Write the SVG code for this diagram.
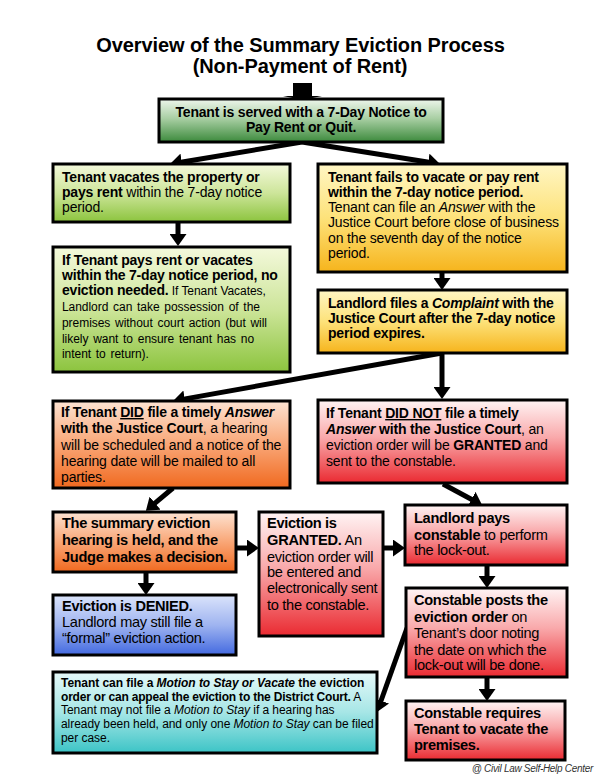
<svg xmlns="http://www.w3.org/2000/svg" width="600" height="778" viewBox="0 0 600 778">
<style>
text{font-family:"Liberation Sans",Arial,sans-serif;font-size:14px;letter-spacing:-0.15px;fill:#000}
.title{font-size:20px;font-weight:bold;letter-spacing:-0.1px}
.b{font-weight:bold;letter-spacing:-0.2px}
.i{font-style:italic}
.u{text-decoration:underline}
.s{font-size:12px;letter-spacing:-0.05px}
.m{font-size:14.6px;letter-spacing:-0.3px}
.box{stroke:#000;stroke-width:3}
.con{stroke:#000;stroke-width:5;fill:none;marker-end:url(#ah)}
.copy{font-size:10px;font-style:italic;letter-spacing:-0.3px;fill:#333}
</style>
<defs>
<marker id="ah" markerUnits="userSpaceOnUse" markerWidth="12" markerHeight="17" viewBox="0 0 12 17" refX="4" refY="8.5" orient="auto">
<path d="M0,0 L12,8.5 L0,17 Z" fill="#000"/>
</marker>
<linearGradient id="gDark" x1="0" y1="0" x2="0" y2="1"><stop offset="0" stop-color="#eef6ec"/><stop offset="0.45" stop-color="#a9cfa4"/><stop offset="1" stop-color="#3c8a3c"/></linearGradient>
<linearGradient id="gLime" x1="0" y1="0" x2="0" y2="1"><stop offset="0" stop-color="#f4f9dc"/><stop offset="0.5" stop-color="#cde59a"/><stop offset="1" stop-color="#8cc43e"/></linearGradient>
<linearGradient id="gYel" x1="0" y1="0" x2="0" y2="1"><stop offset="0" stop-color="#fff6c4"/><stop offset="0.5" stop-color="#fde27a"/><stop offset="1" stop-color="#f6b41c"/></linearGradient>
<linearGradient id="gOra" x1="0" y1="0" x2="0" y2="1"><stop offset="0" stop-color="#fde3d2"/><stop offset="0.5" stop-color="#f9a676"/><stop offset="1" stop-color="#f0691f"/></linearGradient>
<linearGradient id="gRed" x1="0" y1="0" x2="0" y2="1"><stop offset="0" stop-color="#fff4f4"/><stop offset="0.45" stop-color="#f9a9ab"/><stop offset="1" stop-color="#ea2a31"/></linearGradient>
<linearGradient id="gBlue" x1="0" y1="0" x2="0" y2="1"><stop offset="0" stop-color="#dbe4fb"/><stop offset="0.5" stop-color="#9fb4f0"/><stop offset="1" stop-color="#4369e0"/></linearGradient>
<linearGradient id="gTeal" x1="0" y1="0" x2="0" y2="1"><stop offset="0" stop-color="#e6f9f9"/><stop offset="0.5" stop-color="#a6e6e6"/><stop offset="1" stop-color="#3cc4c6"/></linearGradient>
</defs>

<rect width="600" height="778" fill="#fff"/>

<g id="title">
<text class="title" x="300.5" y="52" text-anchor="middle">Overview of the Summary Eviction Process</text>
<text class="title" x="300" y="73" text-anchor="middle">(Non-Payment of Rent)</text>
</g>

<g id="connectors">
<path d="M293,83 H312 V96 H322 L302.5,100 L283,96 H293 Z" fill="#000"/>
<line class="con" x1="302" y1="142" x2="177.9" y2="162.7"/>
<line class="con" x1="302" y1="142" x2="432.1" y2="162.7"/>
<line class="con" x1="178" y1="223" x2="178" y2="238"/>
<line class="con" x1="442" y1="272" x2="442" y2="282"/>
<line class="con" x1="442" y1="353" x2="180.9" y2="399.6"/>
<line class="con" x1="442" y1="353" x2="442" y2="391"/>
<line class="con" x1="173" y1="488" x2="152" y2="505.7"/>
<line class="con" x1="236" y1="548" x2="251" y2="548"/>
<line class="con" x1="383" y1="548" x2="397" y2="548"/>
<line class="con" x1="443" y1="484" x2="475" y2="501.2"/>
<line class="con" x1="146" y1="572" x2="146" y2="587"/>
<line class="con" x1="487" y1="565" x2="487" y2="580"/>
<line class="con" x1="487" y1="677" x2="487" y2="693"/>
<line class="con" x1="407" y1="628" x2="379.7" y2="704.5"/>
</g>

<g id="n_notice">
<rect class="box" x="159" y="99" width="284" height="43" fill="url(#gDark)"/>
<text class="b" x="301" y="117" text-anchor="middle">Tenant is served with a 7-Day Notice to</text>
<text class="b" x="301" y="132" text-anchor="middle">Pay Rent or Quit.</text>
</g>

<g id="n_vacates">
<rect class="box" x="53" y="164" width="237" height="58" fill="url(#gLime)"/>
<text class="b" x="62" y="182">Tenant vacates the property or</text>
<text x="62" y="197"><tspan class="b">pays rent</tspan> within the 7-day notice</text>
<text x="62" y="212">period.</text>
</g>

<g id="n_noeviction">
<rect class="box" x="53" y="247" width="237" height="125" fill="url(#gLime)"/>
<text class="b" x="62" y="265">If Tenant pays rent or vacates</text>
<text class="b" x="62" y="280">within the 7-day notice period, no</text>
<text x="62" y="295"><tspan class="b">eviction needed.</tspan><tspan class="s"> If Tenant  Vacates,</tspan></text>
<text class="s" x="62" y="311" word-spacing="1.5">Landlord can take possession of the</text>
<text class="s" x="62" y="327" word-spacing="1.5">premises without court action (but will</text>
<text class="s" x="62" y="343" word-spacing="1.5">likely want to ensure tenant has no</text>
<text class="s" x="62" y="358" word-spacing="1.5">intent to return).</text>
</g>

<g id="n_fails">
<rect class="box" x="318" y="164" width="249" height="108" fill="url(#gYel)"/>
<text class="b" x="328" y="182">Tenant fails to vacate or pay rent</text>
<text class="b" x="328" y="197">within the 7-day notice period.</text>
<text x="328" y="212">Tenant can file an <tspan class="i">Answer</tspan> with the</text>
<text x="328" y="227">Justice Court before close of business</text>
<text x="328" y="243">on the seventh day of the notice</text>
<text x="328" y="258">period.</text>
</g>

<g id="n_complaint">
<rect class="box" x="318" y="290" width="249" height="63" fill="url(#gYel)"/>
<text class="b" x="328" y="308">Landlord files a <tspan class="i">Complaint</tspan> with the</text>
<text class="b" x="328" y="323">Justice Court after the 7-day notice</text>
<text class="b" x="328" y="338">period expires.</text>
</g>

<g id="n_did">
<rect class="box" x="53" y="401" width="237" height="87" fill="url(#gOra)"/>
<text class="b" x="61" y="417">If Tenant <tspan class="u">DID</tspan> file a timely <tspan class="i">Answer</tspan></text>
<text x="61" y="433"><tspan class="b">with the Justice Court</tspan>, a hearing</text>
<text x="61" y="450">will be scheduled and a notice of the</text>
<text x="61" y="466">hearing date will be mailed to all</text>
<text x="61" y="482">parties.</text>
</g>

<g id="n_didnot">
<rect class="box" x="318" y="400" width="249" height="83" fill="url(#gRed)"/>
<text class="b" x="326" y="418">If Tenant <tspan class="u">DID NOT</tspan> file a timely</text>
<text x="326" y="434"><tspan class="b i">Answer</tspan><tspan class="b"> with the Justice Court</tspan>, an</text>
<text x="326" y="450">eviction order will be <tspan class="b">GRANTED</tspan> and</text>
<text x="326" y="466">sent to the constable.</text>
</g>

<g id="n_hearing">
<rect class="box" x="53" y="512" width="183" height="60" fill="url(#gOra)"/>
<text class="b m" x="62" y="528">The summary eviction</text>
<text class="b m" x="62" y="545">hearing is held, and the</text>
<text class="b m" x="62" y="562">Judge makes a decision.</text>
</g>

<g id="n_granted">
<rect class="box" x="259" y="512" width="124" height="124" fill="url(#gRed)"/>
<text class="b m" x="267" y="528">Eviction is</text>
<text class="m" x="267" y="545"><tspan class="b">GRANTED.</tspan>  An</text>
<text class="m" x="267" y="562">eviction order will</text>
<text class="m" x="267" y="577">be entered and</text>
<text class="m" x="267" y="593">electronically sent</text>
<text class="m" x="267" y="610">to the constable.</text>
</g>

<g id="n_denied">
<rect class="box" x="53" y="595" width="183" height="60" fill="url(#gBlue)"/>
<text class="b m" x="62" y="611">Eviction is DENIED.</text>
<text class="m" x="62" y="627">Landlord may still file a</text>
<text class="m" x="62" y="643">“formal” eviction action.</text>
</g>

<g id="n_pays">
<rect class="box" x="405" y="505" width="162" height="60" fill="url(#gRed)"/>
<text class="b m" x="414" y="523">Landlord pays</text>
<text class="m" x="414" y="540"><tspan class="b">constable</tspan> to perform</text>
<text class="m" x="414" y="555">the lock-out.</text>
</g>

<g id="n_posts">
<rect class="box" x="406" y="588" width="161" height="89" fill="url(#gRed)"/>
<text class="b m" x="414" y="605">Constable posts the</text>
<text class="m" x="414" y="622"><tspan class="b">eviction order</tspan> on</text>
<text class="m" x="414" y="638">Tenant’s door noting</text>
<text class="m" x="414" y="655">the date on which the</text>
<text class="m" x="414" y="670">lock-out will be done.</text>
</g>

<g id="n_requires">
<rect class="box" x="406" y="701" width="159" height="59" fill="url(#gRed)"/>
<text class="b m" x="414" y="718">Constable requires</text>
<text class="b m" x="414" y="734">Tenant to vacate the</text>
<text class="b m" x="414" y="750">premises.</text>
</g>

<g id="n_motion">
<rect class="box" x="53" y="672" width="324" height="81" fill="url(#gTeal)"/>
<text class="b s" x="61" y="687">Tenant can file a <tspan class="i">Motion to Stay or Vacate</tspan>  the eviction</text>
<text class="s" x="61" y="701"><tspan class="b">order or can appeal the eviction to the District Court.</tspan>  A</text>
<text class="s" x="61" y="714">Tenant may not file a <tspan class="i">Motion to Stay</tspan> if a hearing has</text>
<text class="s" x="61" y="728">already been held, and only one <tspan class="i">Motion to Stay</tspan> can be filed</text>
<text class="s" x="61" y="742">per case.</text>
</g>

<text class="copy" x="593" y="772" text-anchor="end">@ Civil Law Self-Help Center</text>
</svg>
